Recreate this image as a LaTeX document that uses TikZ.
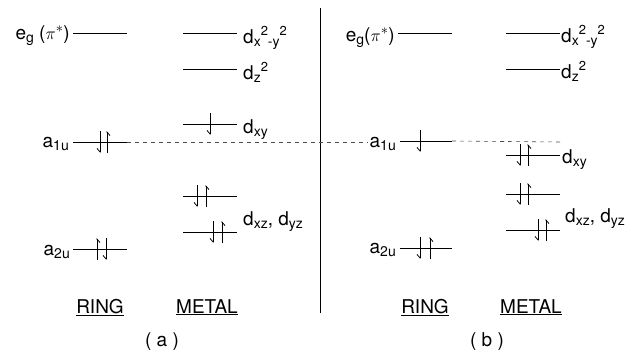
\documentclass[tikz,border=0pt]{standalone}
\usepackage{fontspec}
\setmainfont{TeX Gyre Heros}
\usetikzlibrary{arrows.meta}

% subscript and raised index for the orbital labels
\newcommand{\lo}[1]{\raisebox{-0.35ex}{\fontsize{14}{14}\selectfont #1}}
\newcommand{\hi}[1]{\raisebox{0.75ex}{\fontsize{13}{13}\selectfont #1}}

\tikzset{
  level/.style={line width=1pt},
  spin/.style={line width=0.8pt, -{Straight Barb[right, length=3.5pt, width=6pt]}},
  lbl/.style={inner sep=0pt, font=\fontsize{19}{21}\selectfont},
}

\begin{document}
\begin{tikzpicture}[x=1pt, y=-1pt]
    \useasboundingbox (0,0) rectangle (628,349);

    % (a)
    \draw[level] (73,33) coordinate (egA-l) -- (127,33);
    \draw[level] (73,142) coordinate (a1uA-l) -- (127,142) coordinate (a1uA-r);
    \draw[level] (73,249) coordinate (a2uA-l) -- (127,249);
    \draw[level] (183,33) -- (237,33);
    \draw[level] (183,69) -- (237,69);
    \draw[level] (183,124) -- (237,124);
    \draw[level] (183,196) -- (237,196);
    \draw[level] (183,232) -- (237,232);
    \node[lbl, anchor=base east] (egA) at (70,39) {e\lo{g} ($\pi^*$)};
    \node[lbl, anchor=base east] (a1uA) at (69,147) {a\lo{1u}};
    \node[lbl, anchor=base east] (a2uA) at (70,255) {a\lo{2u}};
    \node[lbl, anchor=base west] (dx2A) at (243,43) {d\lo{x}\hi{2}\lo{-y}\hi{2}};
    \node[lbl, anchor=base west] (dz2A) at (243,79) {d\lo{z}\hi{2}};
    \node[lbl, anchor=base west] (dxyA) at (243,133) {d\lo{xy}};
    \node[lbl, anchor=base west] (dxzA) at (243,225) {d\lo{xz}, d\lo{yz}};
    \foreach \x/\y in {107/142, 206/196, 222/232, 97/249}
        \draw[spin] (\x,\y+11) -- (\x,\y-11);
    \foreach \x/\y in {100/142, 210/124, 197/196, 213/232, 106/249}
        \draw[spin] (\x,\y-11) -- (\x,\y+11);
    \node[lbl, anchor=base] (ringA) at (100,313) {\underline{RING}};
    \node[lbl, anchor=base] (metalA) at (207,313) {\underline{METAL}};
    \node[lbl, anchor=base] (capA) at (162,346) {( a )};

    % divider
    \draw[line width=1pt] (320,8) -- (320,313);

    % (b)
    \draw[level] (398,33) coordinate (egB-l) -- (452,33);
    \draw[level] (400,141) coordinate (a1uB-l) -- (452,141) coordinate (a1uB-r);
    \draw[level] (400,248) coordinate (a2uB-l) -- (452,248);
    \draw[level] (506,33) -- (560,33);
    \draw[level] (506,69) -- (560,69);
    \draw[level] (506,155) -- (560,155);
    \draw[level] (506,194) -- (560,194);
    \draw[level] (506,230) -- (560,230);
    \node[lbl, anchor=base east] (egB) at (395,41) {e\lo{g}($\pi^*$)};
    \node[lbl, anchor=base east] (a1uB) at (396,147) {a\lo{1u}};
    \node[lbl, anchor=base east] (a2uB) at (396,253) {a\lo{2u}};
    \node[lbl, anchor=base west] (dx2B) at (561,42) {d\lo{x}\hi{2}\lo{-y}\hi{2}};
    \node[lbl, anchor=base west] (dz2B) at (561,78) {d\lo{z}\hi{2}};
    \node[lbl, anchor=base west] (dxyB) at (562,163) {d\lo{xy}};
    \node[lbl, anchor=base west] (dxzB) at (565,222) {d\lo{xz}, d\lo{yz}};
    \foreach \x/\y in {528/155, 528/194, 546/230, 430/248}
        \draw[spin] (\x,\y+11) -- (\x,\y-11);
    \foreach \x/\y in {420/141, 520/155, 520/194, 538/230, 420/248}
        \draw[spin] (\x,\y-11) -- (\x,\y+11);
    \node[lbl, anchor=base] (ringB) at (425,313) {\underline{RING}};
    \node[lbl, anchor=base] (metalB) at (531,313) {\underline{METAL}};
    \node[lbl, anchor=base] (capB) at (487,346) {( b )};

    % a1u reference line
    \coordinate (a1uEnd) at (560,142);
    \draw[black!70, line width=0.6pt, dash pattern=on 4pt off 4pt] (a1uA-r) -- ([xshift=-2pt]a1uB.west |- a1uA-r);
    \draw[black!70, line width=0.6pt, dash pattern=on 4pt off 4pt] (a1uB-r) -- (a1uEnd);
\end{tikzpicture}
\end{document}
